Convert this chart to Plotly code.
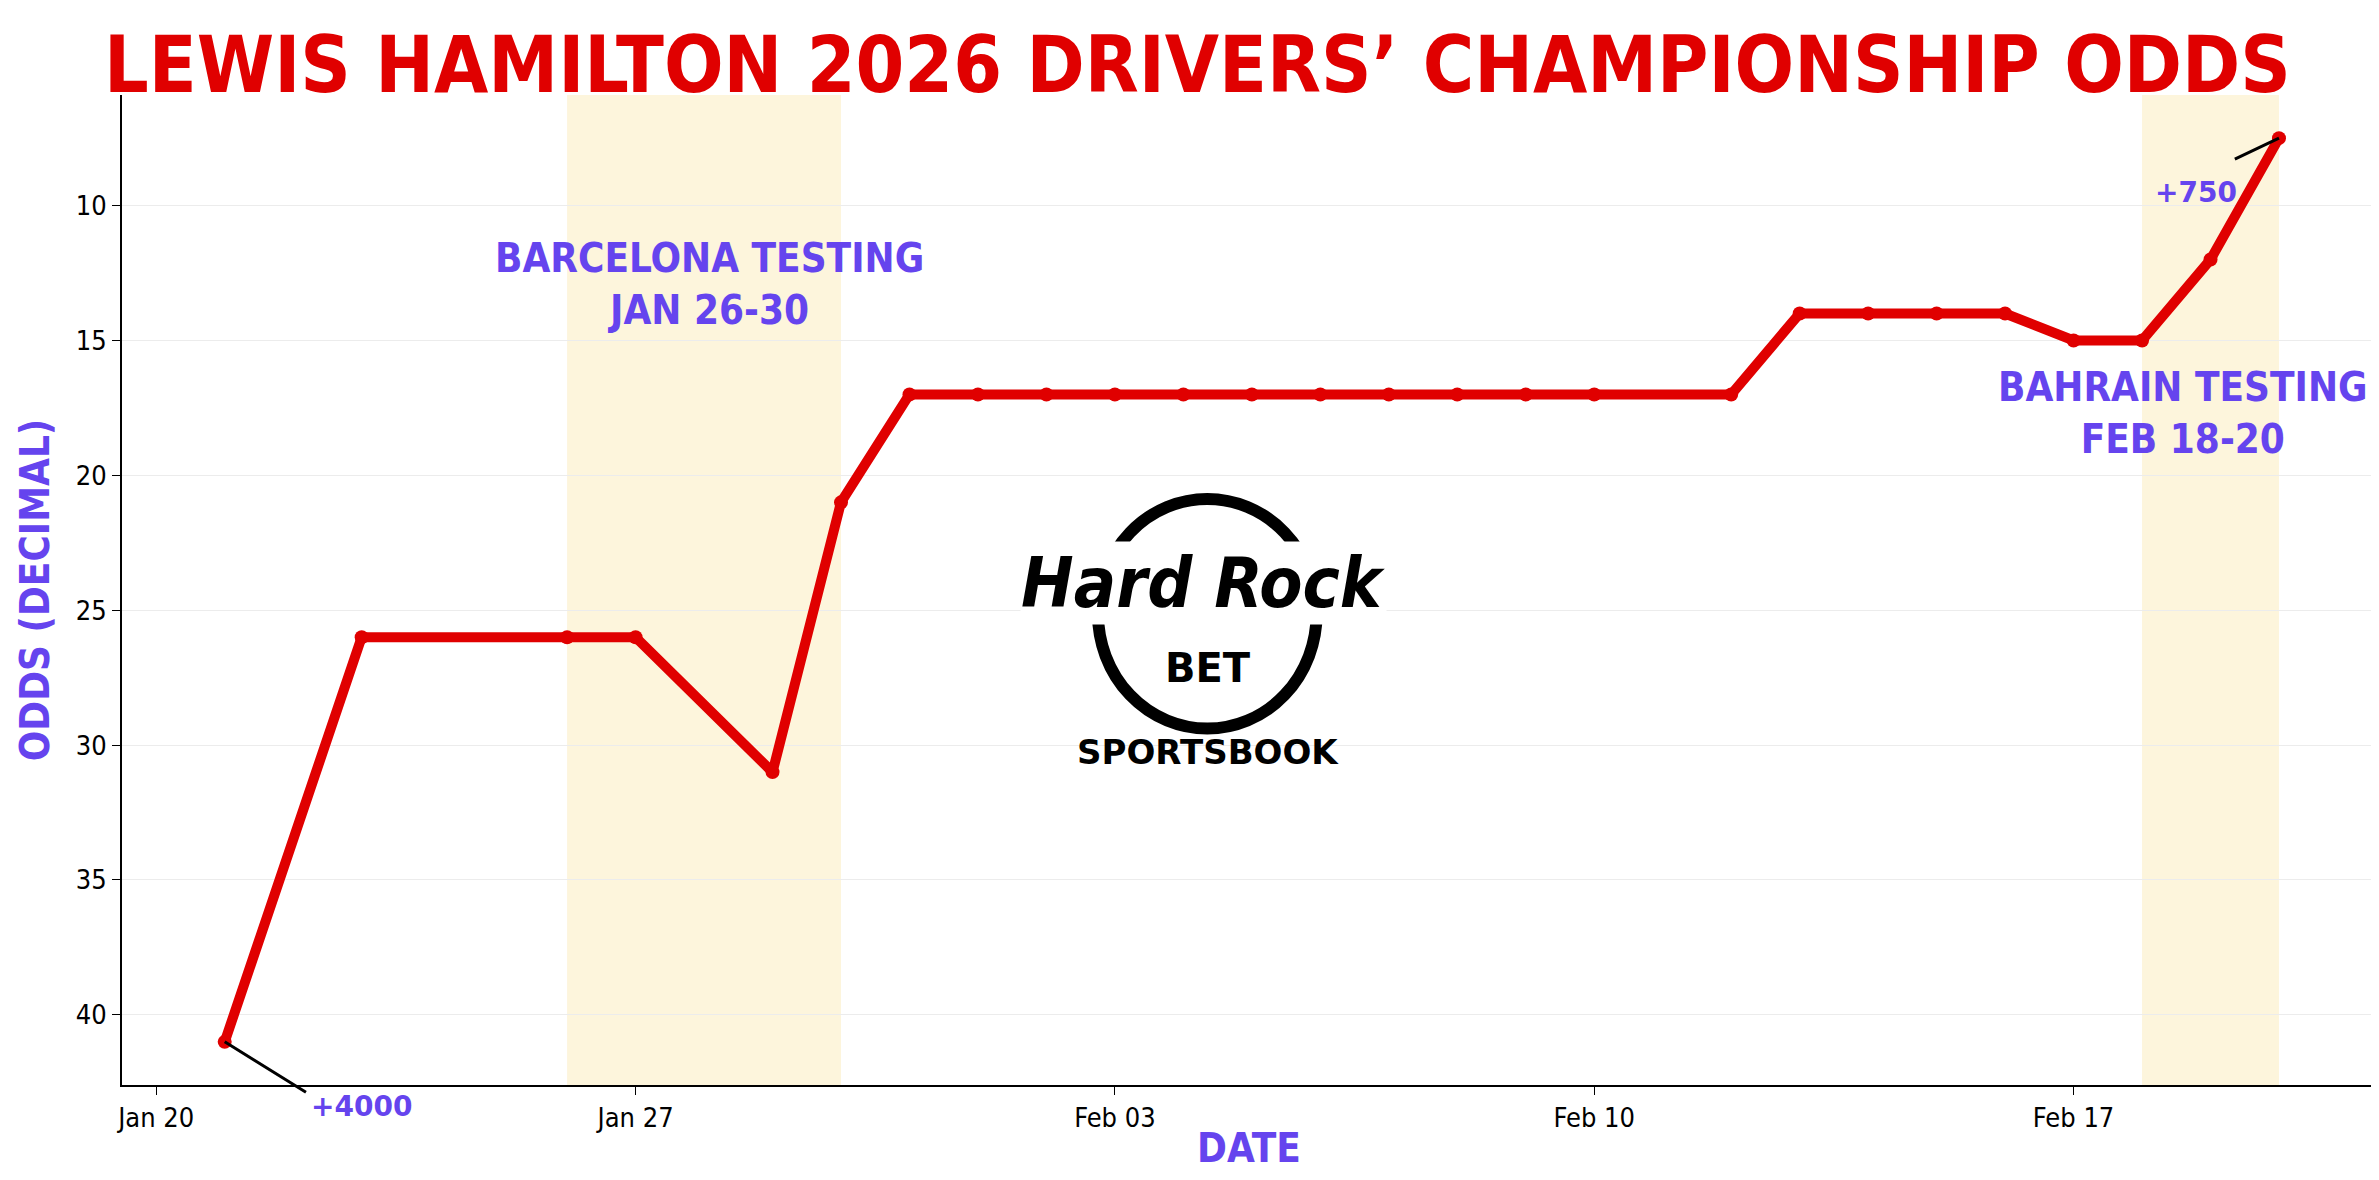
import plotly.graph_objects as go

dates = ["2026-01-21","2026-01-23","2026-01-26","2026-01-27","2026-01-29","2026-01-30","2026-01-31",
         "2026-02-01","2026-02-02","2026-02-03","2026-02-04","2026-02-05","2026-02-06","2026-02-07",
         "2026-02-08","2026-02-09","2026-02-10","2026-02-12","2026-02-13","2026-02-14","2026-02-15",
         "2026-02-16","2026-02-17","2026-02-18","2026-02-19","2026-02-20"]
odds = [41,26,26,26,31,21,17,17,17,17,17,17,17,17,17,17,17,17,14,14,14,14,15,15,12,7.5]
y_ticks = [10,15,20,25,30,35,40]
tick_dates = ["2026-01-20","2026-01-27","2026-02-03","2026-02-10","2026-02-17"]
tick_labels = ["Jan 20","Jan 27","Feb 03","Feb 10","Feb 17"]
shade_periods = [("2026-01-26","2026-01-30"),("2026-02-18","2026-02-20")]

PURPLE = "#6544ee"
RED = "#e00000"
COND = "DejaVu Sans Condensed"

fig = go.Figure()
for a, b in shade_periods:
    fig.add_vrect(x0=a, x1=b, fillcolor="#fdf5dc", opacity=1, line_width=0, layer="below")

fig.add_trace(go.Scatter(x=dates, y=odds, mode="lines+markers",
                         line=dict(color=RED, width=10), marker=dict(color=RED, size=14),
                         showlegend=False))

fig.add_annotation(x=dates[0], y=odds[0], ax="2026-01-22T05:00", ay=42.9, axref="x", ayref="y",
                   text="", showarrow=True, arrowhead=0, arrowwidth=3, arrowcolor="black")
fig.add_annotation(x="2026-01-23T00:00", yref="paper", y=-0.04, text="+4000", showarrow=False,
                   font=dict(family="DejaVu Sans", size=28, color=PURPLE, weight="bold"))
fig.add_annotation(x=dates[-1], y=odds[-1], ax="2026-02-19T08:00", ay=8.3, axref="x", ayref="y",
                   text="", showarrow=True, arrowhead=0, arrowwidth=3, arrowcolor="black")
fig.add_annotation(x="2026-02-18T19:00", y=9.5, text="+750", showarrow=False,
                   font=dict(family="DejaVu Sans", size=28, color=PURPLE, weight="bold"))

fig.add_annotation(x="2026-01-28T02:00", y=12.9, text="BARCELONA TESTING<br>JAN 26-30", showarrow=False,
                   font=dict(family=COND, size=40, color=PURPLE, weight="bold"))
fig.add_annotation(x="2026-02-21T08:00", xanchor="right", y=17.7, text="BAHRAIN TESTING<br>FEB 18-20",
                   showarrow=False, align="center",
                   font=dict(family=COND, size=40, color=PURPLE, weight="bold"))

# logo as text
fig.add_shape(type="circle", xref="paper", yref="paper", x0=0.433, x1=0.530, y0=0.36, y1=0.592,
              line=dict(color="black", width=12))
fig.add_annotation(xref="paper", yref="paper", x=0.480, y=0.507, text="<i>Hard Rock</i>", showarrow=False,
                   font=dict(family="DejaVu Sans Condensed", size=70, color="black", weight="bold"),
                   bgcolor="white", borderpad=0)
fig.add_annotation(xref="paper", yref="paper", x=0.482, y=0.421, text="BET", showarrow=False,
                   font=dict(family="DejaVu Sans", size=40, color="black", weight="bold"))
fig.add_annotation(xref="paper", yref="paper", x=0.482, y=0.314, text="SPORTSBOOK", showarrow=False,
                   font=dict(family="DejaVu Sans", size=34, color="black", weight="bold"))

fig.update_layout(
    width=2379, height=1180, paper_bgcolor="white", plot_bgcolor="white",
    margin=dict(l=114, r=11, t=87, b=103),
    title=dict(text="LEWIS HAMILTON 2026 DRIVERS’ CHAMPIONSHIP ODDS", x=0.5, xanchor="center",
               y=0.975, yanchor="top",
               font=dict(family=COND, size=78, color=RED, weight="bold")),
    xaxis=dict(type="date", range=["2026-01-19T12:00", "2026-02-21T10:00"],
               tickvals=tick_dates, ticktext=tick_labels, ticks="outside", ticklen=8,
               tickcolor="black", showline=True, linecolor="black", linewidth=2,
               showgrid=False, tickfont=dict(family="DejaVu Sans Condensed", size=27, color="black"),
               title=dict(text="DATE", standoff=2,
                          font=dict(family=COND, size=40, color=PURPLE, weight="bold"))),
    yaxis=dict(range=[42.6, 5.9], tickvals=y_ticks, ticks="outside", ticklen=8, tickcolor="black",
               showline=True, linecolor="black", linewidth=2, showgrid=True, gridcolor="#ececec",
               zeroline=False, tickfont=dict(family="DejaVu Sans Condensed", size=27, color="black"),
               title=dict(text="ODDS (DECIMAL)", standoff=14,
                          font=dict(family=COND, size=40, color=PURPLE, weight="bold"))),
)
fig.write_html("out.html")
